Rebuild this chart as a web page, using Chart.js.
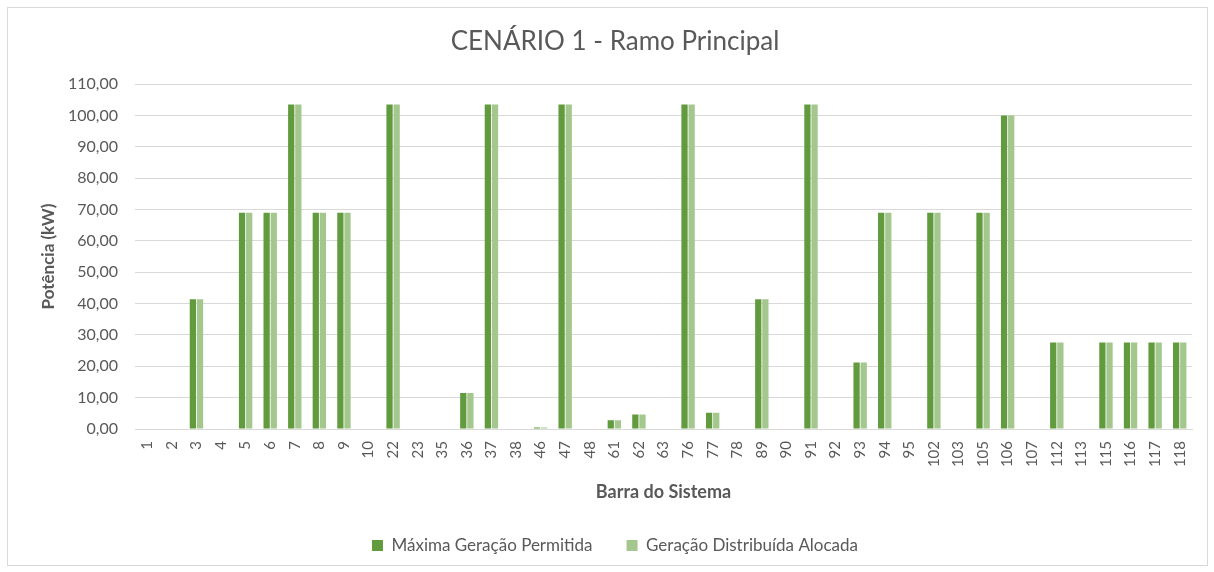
<!DOCTYPE html>
<html>
<head>
<meta charset="utf-8">
<script src="https://cdn.jsdelivr.net/npm/chart.js@4/dist/chart.umd.min.js"></script>
<style>
  html, body { margin: 0; padding: 0; background: #fff; }
  #frame { position: absolute; left: 7px; top: 7px; width: 1199px; height: 557px; border: 1px solid #d9d9d9; }
  #wrap { position: absolute; left: 0; top: 0; width: 1214px; height: 572px; }
</style>
</head>
<body>
<div id="frame"></div>
<div id="wrap"><canvas id="chart"></canvas></div>
<script>
const categories = ["1","2","3","4","5","6","7","8","9","10","22","23","35","36","37","38","46","47","48","61","62","63","76","77","78","89","90","91","92","93","94","95","102","103","105","106","107","112","113","115","116","117","118"];
const maxGeracao = [0,0,41.4,0,69,69,103.5,69,69,0,103.5,0,0,11.5,103.5,0,0.5,103.5,0,2.8,4.6,0,103.5,5.2,0,41.4,0,103.5,0,21.2,69,0,69,0,69,100,0,27.6,0,27.6,27.6,27.6,27.6];
const gdAlocada = [0,0,41.4,0,69,69,103.5,69,69,0,103.5,0,0,11.5,103.5,0,0.5,103.5,0,2.8,4.6,0,103.5,5.2,0,41.4,0,103.5,0,21.2,69,0,69,0,69,100,0,27.6,0,27.6,27.6,27.6,27.6];
const yTicks = [0,10,20,30,40,50,60,70,80,90,100,110];

const grey = "#595959";
const font = "Lato, 'Open Sans', sans-serif";

new Chart(document.getElementById("chart"), {
    type: "bar",
    data: {
        labels: categories,
        datasets: [
            { label: "Máxima Geração Permitida", data: maxGeracao, backgroundColor: "#629b3e", borderWidth: 0 },
            { label: "Geração Distribuída Alocada", data: gdAlocada, backgroundColor: "#a4c78e", borderWidth: 0 }
        ]
    },
    options: {
        responsive: true,
        maintainAspectRatio: false,
        animation: false,
        datasets: { bar: { categoryPercentage: 0.58, barPercentage: 0.88 } },
        layout: { padding: { left: 38, right: 22, top: 0, bottom: 8 } },
        scales: {
            x: {
                grid: { display: false, drawTicks: false },
                border: { color: "#d9d9d9" },
                ticks: { color: grey, font: { family: font, size: 15 }, minRotation: 90, maxRotation: 90, autoSkip: false, padding: 12 },
                title: { display: true, text: "Barra do Sistema", color: grey, font: { family: font, size: 18, weight: "bold" }, padding: { top: 8, bottom: 0 } },
                afterFit: s => { s.height = 74; }
            },
            y: {
                min: 0,
                max: 110,
                afterBuildTicks: s => { s.ticks = yTicks.map(v => ({ value: v })); },
                grid: { color: "#d9d9d9", drawTicks: false },
                border: { display: false },
                ticks: { color: grey, font: { family: font, size: 16 }, padding: 17, callback: v => v.toFixed(2).replace(".", ",") },
                title: { display: true, text: "Potência (kW)", color: grey, font: { family: font, size: 17, weight: "bold" }, padding: 0 },
                afterFit: s => { s.width = 97; }
            }
        },
        plugins: {
            title: { display: true, text: "CENÁRIO 1 - Ramo Principal", color: grey, font: { family: font, size: 26, weight: "normal" }, padding: { top: 26, bottom: 27 } },
            legend: {
                position: "bottom",
                labels: { color: grey, font: { family: font, size: 17 }, boxWidth: 11, boxHeight: 11, padding: 34 }
            },
            tooltip: { enabled: false }
        }
    }
});
</script>
</body>
</html>
